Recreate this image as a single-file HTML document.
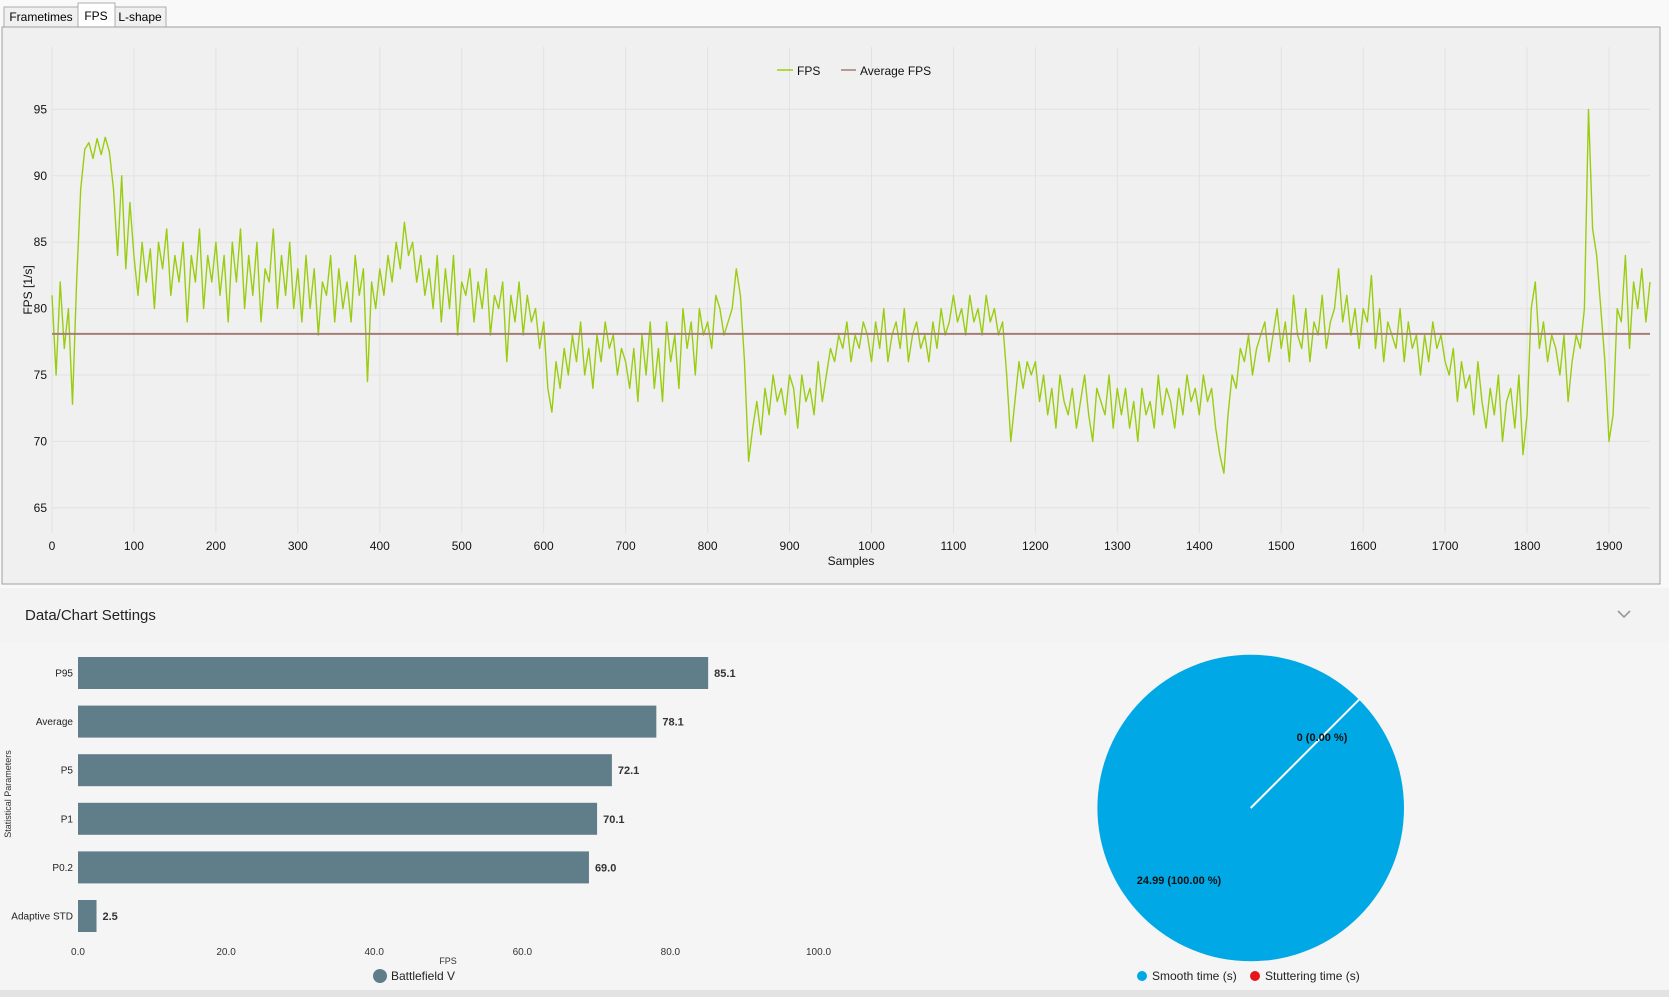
<!DOCTYPE html>
<html><head><meta charset="utf-8"><style>
html,body{margin:0;padding:0;width:1669px;height:997px;overflow:hidden;background:#f9f9f9;font-family:"Liberation Sans",sans-serif;}
svg{display:block}
</style></head><body>
<svg id="root" width="1669" height="997" viewBox="0 0 1669 997" xmlns="http://www.w3.org/2000/svg" font-family="Liberation Sans, sans-serif">
  <rect x="0" y="0" width="1669" height="997" fill="#f9f9f9"/>
  <!-- tabs -->
  <g>
    <rect x="4" y="7" width="74" height="20" fill="#f0f0f0" stroke="#adadad"/>
    <text x="41" y="21" font-size="12" text-anchor="middle" fill="#000">Frametimes</text>
    <rect x="78" y="3" width="37" height="25" fill="#ffffff" stroke="#adadad"/>
    <text x="96" y="20" font-size="12" text-anchor="middle" fill="#000">FPS</text>
    <rect x="115" y="7" width="51" height="20" fill="#f0f0f0" stroke="#adadad"/>
    <text x="140" y="21" font-size="12" text-anchor="middle" fill="#000">L-shape</text>
  </g>
  <!-- line chart panel -->
  <rect x="2" y="27" width="1658" height="557" fill="#f0f0f0" stroke="#a0a0a0"/>
  <g id="lineChart"></g>
  <!-- settings band -->
  <rect x="0" y="588" width="1669" height="54" fill="#f3f3f3"/>
  <text x="25" y="620" font-size="15" fill="#222">Data/Chart Settings</text>
  <path d="M1618 611 L1624 617 L1630 611" fill="none" stroke="#999" stroke-width="1.6"/>
  <rect x="0" y="642" width="1669" height="348" fill="#f5f5f5"/>
  <rect x="0" y="990" width="1669" height="7" fill="#e3e3e3"/>
  <g id="barChart"></g>
  <g id="pieChart"></g>
</svg>
<script>
const NS='http://www.w3.org/2000/svg';
function mk(parent,tag,attrs,text){const e=document.createElementNS(NS,tag);for(const k in attrs)e.setAttribute(k,attrs[k]);if(text!==undefined)e.textContent=text;parent.appendChild(e);return e;}

// ---------- line chart data ----------
const sampleStep = 5;
const fpsValues = [
81,75,82,77,80,72.8,
82,89,92,
92.5,91.3,92.8,91.6,92.9,91.8,
89,84,90,83,88,
84,81,85,82,84.5,80,85,83,86,81,84,82,85,79,84,82,86,80,84,82,85,
81,84,79,85,82,86,80,84,81,85,79,83,82,86,80,84,81,85,80,83,
79,84,80,83,78,82,81,84,79,83,80,82,79,84,81,83,74.5,82,80,83,
81,84,82,85,83,86.5,84,85,82,84,81,83,80,84,
79,83,80,84,78,82,81,83,79,82,80,83,78,81,80,82,76,81,79,82,78,81,79,80,77,79,
74,72.2,76,74,77,75,78,76,79,75,77,74,78,76,79,77,78,75,77,76,
74,77,73,78,75,79,74,77,73,79,76,78,74,80,77,79,75,80,78,79,77,81,80,78,79,80,
83,81,76,68.5,71,73,
70.5,74,72,75,73,74,72,75,74,71,75,73,74,72,76,73,75,77,
76,78,77,79,76,78,77,79,78,76,
79,77,80,76,78,79,77,80,76,78,79,77,78,76,79,77,80,78,79,81,79,80,78,81,79,80,78,81,79,80,78,79,
75,70,73,76,74,76,75,76,
73,75,72,74,71,75,73,72,74,71,73,75,72,70,74,73,72,75,71,74,
72,74,71,73,70,74,72,73,71,75,72,74,73,71,74,72,75,73,74,72,75,73,74,71,
69,67.6,72,75,74,77,
76,78,75,77,78,79,76,78,80,77,
79,76,81,78,77,80,76,79,78,81,77,79,80,83,79,81,78,80,77,80,
79,82.5,77,80,76,79,78,77,80,76,79,77,78,75,78,76,79,77,78,76,
75,77,73,76,74,75,72,76,73,71,74,72,75,70,73,74,71,75,69,72,
80,82,77,79,76,78,77,75,78,73,76,78,77,80,
95,86,84,80,76,70,72,80,79,84,77,82,80,83,79,82
];
const averageFps = 78.1;
const xTicks = [0,100,200,300,400,500,600,700,800,900,1000,1100,1200,1300,1400,1500,1600,1700,1800,1900];
const yTicks = [65,70,75,80,85,90,95];

// ---------- line chart ----------
(function(){
  const g=document.getElementById('lineChart');
  const L=52,R=1650,T=47,B=533;
  const xMin=0,xMax=1950,yMin=63.1,yMax=99.7;
  const sx=v=>L+(v-xMin)/(xMax-xMin)*(R-L);
  const sy=v=>B-(v-yMin)/(yMax-yMin)*(B-T);
  xTicks.forEach(t=>{
    const l=mk(g,'line',{x1:sx(t),x2:sx(t),y1:T,y2:B,stroke:'#e2e2e2','stroke-width':1});
    
    
    const tx=mk(g,'text',{x:sx(t),y:550,'font-size':12,'text-anchor':'middle',fill:'#111'},String(t));
    
    
  });
  yTicks.forEach(t=>{
    const l=mk(g,'line',{x1:L,x2:R,y1:sy(t),y2:sy(t),stroke:'#e2e2e2','stroke-width':1});
    
    
    const tx=mk(g,'text',{x:47,y:sy(t)+4,'font-size':12,'text-anchor':'end',fill:'#111'},String(t));
    
    
  });
  const xt=mk(g,'text',{x:sx(975),y:565,'font-size':12,'text-anchor':'middle',fill:'#111'},'Samples');
  
  
  const yt=mk(g,'text',{x:0,y:0,'font-size':12,'text-anchor':'middle',fill:'#111',transform:'translate(32,290) rotate(-90)'},'FPS [1/s]');
  
  
  let d='';
  fpsValues.forEach((v,i)=>{d+=(i?'L':'M')+sx(i*sampleStep).toFixed(1)+' '+sy(v).toFixed(1)+' ';});
  const p=mk(g,'path',{d:d,fill:'none',stroke:'#9acd12','stroke-width':1.4,'stroke-linejoin':'round'});
  
  
  const a=mk(g,'line',{x1:L,x2:R,y1:sy(averageFps),y2:sy(averageFps),stroke:'#a57d76','stroke-width':2});
  
  
  // legend
  const lg=mk(g,'g',{});
  
  
  const l1=mk(lg,'line',{x1:777,x2:793,y1:70,y2:70,stroke:'#9acd12','stroke-width':1.5});
  
  
  const t1=mk(lg,'text',{x:797,y:75,'font-size':12,fill:'#111'},'FPS');
  
  
  const l2=mk(lg,'line',{x1:841,x2:856,y1:70,y2:70,stroke:'#a57d76','stroke-width':1.5});
  
  
  const t2=mk(lg,'text',{x:860,y:75,'font-size':12,fill:'#111'},'Average FPS');
  
  
})();

// ---------- bar chart data ----------
const barCategories = ['P95','Average','P5','P1','P0.2','Adaptive STD'];
const barValues = [85.1,78.1,72.1,70.1,69.0,2.5];
const barTickLabels = ['0.0','20.0','40.0','60.0','80.0','100.0'];
const barTickValues = [0,20,40,60,80,100];

(function(){
  const g=document.getElementById('barChart');
  const L=78,R=818.5;
  const sx=v=>L+v/100*(R-L);
  const top0=673,step=48.6,h=32;
  barCategories.forEach((c,i)=>{
    const cy=top0+i*step;
    const r=mk(g,'rect',{x:L,y:cy-h/2,width:sx(barValues[i])-L,height:h,fill:'#607d8a'});
    
    
    const lb=mk(g,'text',{x:L-5,y:cy+3.5,'font-size':10,'text-anchor':'end',fill:'#222'},c);
    
    
    const vl=mk(g,'text',{x:sx(barValues[i])+6,y:cy+4,'font-size':11,'font-weight':'bold',fill:'#333'},barValues[i].toFixed(1));
    
    
  });
  barTickValues.forEach((t,i)=>{
    const tx=mk(g,'text',{x:sx(t),y:955,'font-size':10,'text-anchor':'middle',fill:'#333'},barTickLabels[i]);
    
    
  });
  const xt=mk(g,'text',{x:448,y:964,'font-size':9,'text-anchor':'middle',fill:'#333'},'FPS');
  
  
  const yt=mk(g,'text',{x:0,y:0,'font-size':9,'text-anchor':'middle',fill:'#333',transform:'translate(11,794) rotate(-90)'},'Statistical Parameters');
  
  
  const c=mk(g,'circle',{cx:380,cy:976,r:7,fill:'#607d8a'});
  
  
  const lt=mk(g,'text',{x:391,y:980,'font-size':12,fill:'#222'},'Battlefield V');
  
  
})();

// ---------- pie chart data ----------
const pieLabels = ['Smooth time (s)','Stuttering time (s)'];
const pieValues = [24.99,0];
const pieColors = ['#00a9e6','#e8141b'];

(function(){
  const g=document.getElementById('pieChart');
  const cx=1250.7,cy=808,r=153.3;
  const total=pieValues.reduce((a,b)=>a+b,0);
  let ang=-45; // start angle (deg, clockwise from east)
  const pt=(a,rr)=>[cx+rr*Math.cos(a*Math.PI/180),cy+rr*Math.sin(a*Math.PI/180)];
  pieValues.forEach((v,i)=>{
    const sweep=v/total*360;
    let s;
    if(sweep>=359.99){
      s=mk(g,'circle',{cx:cx,cy:cy,r:r,fill:pieColors[i]});
    }else if(sweep>0){
      const [x1,y1]=pt(ang,r),[x2,y2]=pt(ang+sweep,r);
      s=mk(g,'path',{d:`M${cx} ${cy} L${x1} ${y1} A${r} ${r} 0 ${sweep>180?1:0} 1 ${x2} ${y2} Z`,fill:pieColors[i]});
    }
    if(s){
      
      
    }
    ang+=sweep;
  });
  const [ex,ey]=pt(-45,r);
  const sep=mk(g,'line',{x1:cx,y1:cy,x2:ex,y2:ey,stroke:'#ffffff','stroke-width':2});
  
  
  const l1=mk(g,'text',{x:1322,y:741,'font-size':11,'font-weight':'bold','text-anchor':'middle',fill:'#111'},pieValues[1]+' ('+(pieValues[1]/total*100).toFixed(2)+' %)');
  
  
  const l2=mk(g,'text',{x:1179,y:884,'font-size':11,'font-weight':'bold','text-anchor':'middle',fill:'#111'},pieValues[0].toFixed(2)+' ('+(pieValues[0]/total*100).toFixed(2)+' %)');
  
  
  const lx=[1142,1255];
  pieLabels.forEach((lab,i)=>{
    const c=mk(g,'circle',{cx:lx[i],cy:976,r:5,fill:pieColors[i]});
    
    
    const t=mk(g,'text',{x:lx[i]+10,y:980,'font-size':12,fill:'#222'},lab);
    
    
  });
})();
</script>
</body></html>
